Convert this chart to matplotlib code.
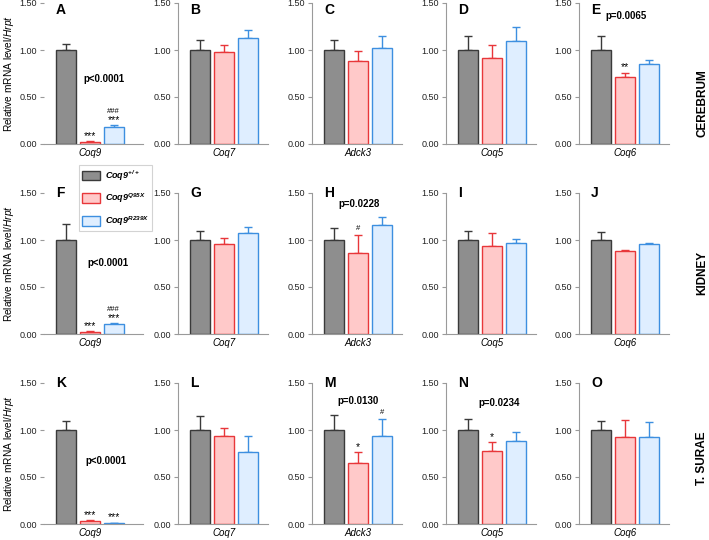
import matplotlib
matplotlib.use("Agg")
from matplotlib import pyplot as plt
from matplotlib.patches import Patch

plt.rcParams['font.family'] = ['Liberation Sans', 'DejaVu Sans']
plt.rcParams['mathtext.fontset'] = 'custom'
plt.rcParams['mathtext.rm'] = 'Liberation Sans'
plt.rcParams['mathtext.it'] = 'Liberation Sans:italic'
plt.rcParams['mathtext.bf'] = 'Liberation Sans:bold'
plt.rcParams['mathtext.bfit'] = 'Liberation Sans:italic:bold'

genes = ["Coq9", "Coq7", "Adck3", "Coq5", "Coq6"]
tissues = ["CEREBRUM", "KIDNEY", "T. SURAE"]
letters = ["A", "B", "C", "D", "E",
           "F", "G", "H", "I", "J",
           "K", "L", "M", "N", "O"]

# mean relative mRNA level: [Coq9+/+, Coq9Q95X, Coq9R239X] per gene
cerebrum_mean = [[1.00, 0.02, 0.18], [1.00, 0.975, 1.13], [1.00, 0.88, 1.02],
                 [1.00, 0.92, 1.10], [1.00, 0.71, 0.855]]
cerebrum_err = [[0.06, 0.01, 0.02], [0.105, 0.08, 0.08], [0.11, 0.11, 0.13],
                [0.15, 0.13, 0.14], [0.15, 0.05, 0.035]]
kidney_mean = [[1.00, 0.02, 0.107], [1.00, 0.96, 1.07], [1.00, 0.857, 1.16],
               [1.00, 0.94, 0.965], [1.00, 0.885, 0.96]]
kidney_err = [[0.17, 0.01, 0.005], [0.10, 0.06, 0.07], [0.125, 0.20, 0.08],
              [0.10, 0.13, 0.05], [0.085, 0.01, 0.01]]
surae_mean = [[1.00, 0.03, 0.01], [1.00, 0.94, 0.77], [1.00, 0.654, 0.94],
              [1.00, 0.78, 0.88], [1.00, 0.93, 0.93]]
surae_err = [[0.10, 0.01, 0.003], [0.15, 0.08, 0.17], [0.16, 0.11, 0.18],
             [0.12, 0.09, 0.10], [0.10, 0.18, 0.16]]

# significance vs Coq9+/+ (*) and vs Coq9Q95X (#): (row, col, bar, text)
stars = [(0, 0, 1, "***"), (0, 0, 2, "***"), (0, 4, 1, "**"),
         (1, 0, 1, "***"), (1, 0, 2, "***"),
         (2, 0, 1, "***"), (2, 0, 2, "***"), (2, 2, 1, "*"), (2, 3, 1, "*")]
hashes = [(0, 0, 2, "###"), (1, 0, 2, "###"), (1, 2, 1, "#"), (2, 2, 2, "#")]
# p-values: (row, col, text)
pvals = [(0, 0, "p<0.0001"), (0, 4, "p=0.0065"), (1, 0, "p<0.0001"),
         (1, 2, "p=0.0228"), (2, 0, "p<0.0001"), (2, 2, "p=0.0130"),
         (2, 3, "p=0.0234")]
pval_pos = {(0, 0): (1.6, 0.69), (0, 4): (1.08, 1.36), (1, 0): (1.75, 0.76),
            (1, 2): (1.08, 1.38), (2, 0): (1.67, 0.67), (2, 2): (1.0, 1.31),
            (2, 3): (1.33, 1.29)}

genotypes = [r"$\mathbfit{Coq9}^{\mathbfit{+/+}}$",
             r"$\mathbfit{Coq9}^{\mathbfit{Q95X}}$",
             r"$\mathbfit{Coq9}^{\mathbfit{R239X}}$"]
fills = ["#8e8e8e", "#ffc9c9", "#dfeeff"]
edges = ["#3a3a3a", "#e8373a", "#3d8fe0"]

means = [cerebrum_mean, kidney_mean, surae_mean]
errs = [cerebrum_err, kidney_err, surae_err]

W, H = 709, 540
fig = plt.figure(figsize=(7.09, 5.4), dpi=100)

col_left = [44, 178, 312, 446, 579]
row_bottom = [144, 334, 524]
ax_h = 141
spine_c = "#9a9a9a"

axes = {}
for r in range(3):
    for c in range(5):
        w = 99 if c == 0 else 90
        ax = fig.add_axes([col_left[c] / W, 1 - row_bottom[r] / H, w / W, ax_h / H])
        axes[(r, c)] = ax
        x = [0, 1, 2]
        m = means[r][c]
        e = errs[r][c]
        for i in range(3):
            ax.errorbar(x[i], m[i], yerr=[[0], [e[i]]], fmt="none",
                        ecolor=edges[i], elinewidth=1.0, capsize=3.2,
                        capthick=1.0, zorder=1)
            ax.bar(x[i], m[i], width=0.83, color=fills[i], edgecolor=edges[i],
                   linewidth=1.0, zorder=2)
        ax.set_ylim(0, 1.5)
        ax.set_xlim(-0.9, 3.225 if c == 0 else 2.85)
        ax.set_yticks([0, 0.5, 1.0, 1.5])
        ax.set_yticklabels(["0.00", "0.50", "1.00", "1.50"])
        ax.set_xticks([1])
        ax.set_xticklabels([genes[c]], fontstyle="italic", fontsize=7)
        ax.tick_params(axis="x", length=0, pad=3)
        ax.tick_params(axis="y", length=3, width=0.8, color=spine_c,
                       labelsize=6.5, labelcolor="#222222", pad=2)
        for s in ["top", "right"]:
            ax.spines[s].set_visible(False)
        ax.spines["bottom"].set_color(spine_c)
        ax.spines["left"].set_color(spine_c)
        if c == 0:
            ax.spines["left"].set_visible(False)
        ax.text(-0.4, 1.43 if r == 0 else 1.5, letters[r * 5 + c],
                fontsize=10, fontweight="bold", ha="left", va="center")

for r in range(3):
    yc = 1 - (row_bottom[r] - ax_h / 2) / H
    fig.text(9 / W, yc, r"Relative mRNA level/$\mathit{Hrpt}$", rotation=90,
             ha="center", va="center", fontsize=7.3)

for r, c, i, t in stars:
    top = means[r][c][i] + errs[r][c][i]
    axes[(r, c)].text(i, top + 0.005, t, ha="center", va="bottom",
                      fontsize=7.5)
for r, c, i, t in hashes:
    top = means[r][c][i] + errs[r][c][i]
    if t == "###":
        top += 0.08
    axes[(r, c)].text(i, top + 0.03, t, ha="center", va="bottom",
                      fontsize=5.5)

for r, c, t in pvals:
    px, py = pval_pos[(r, c)]
    axes[(r, c)].text(px, py, t, ha="center", va="center", fontsize=7,
                      fontweight="bold")

row_label_y = [103, 273, 458]
for r in range(3):
    fig.text(702 / W, 1 - row_label_y[r] / H, tissues[r], rotation=90,
             ha="center", va="center", fontsize=8.5, fontweight="bold")

handles = [Patch(facecolor=fills[i], edgecolor=edges[i], linewidth=1.0)
           for i in range(3)]
leg = fig.legend(handles, genotypes, loc="upper left",
                 bbox_to_anchor=(79 / W, 1 - 165 / H), fontsize=6.5,
                 frameon=True, fancybox=False, edgecolor="#c8c8c8",
                 borderpad=0.35, handlelength=2.0, handleheight=1.25,
                 handletextpad=0.5, labelspacing=1.0, borderaxespad=0)
leg.get_frame().set_linewidth(0.8)

fig.savefig("out.png", dpi=100)
